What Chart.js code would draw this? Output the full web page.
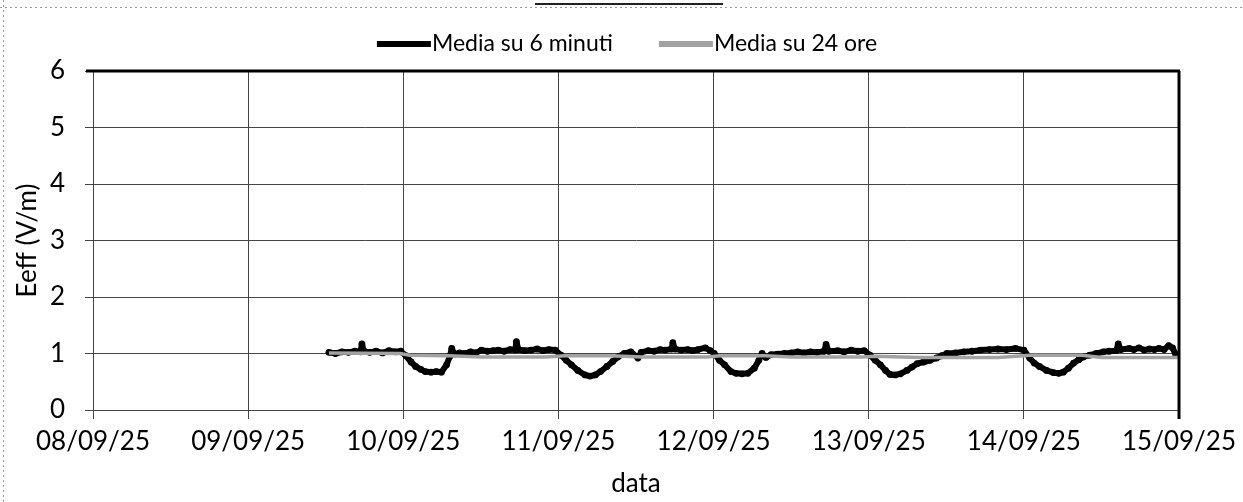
<!DOCTYPE html>
<html><head><meta charset="utf-8">
<script src="https://cdn.jsdelivr.net/npm/chart.js@4.4.1/dist/chart.umd.min.js"></script>
<style>html,body{margin:0;padding:0;background:#fff;overflow:hidden}#wrap{width:1243px;height:502px;position:relative}</style>
</head><body><div id="wrap"><canvas id="c" width="1243" height="502"></canvas></div>
<script>
// x-axis: hours since 08/09/25 00:00
const tickLabels = ['08/09/25','09/09/25','10/09/25','11/09/25','12/09/25','13/09/25','14/09/25','15/09/25'];
const seriesNames = ['Media su 6 minuti','Media su 24 ore'];

const minuteHours = [36.5,37.5,38.5,39.5,40.5,41.4,41.6,41.9,42.8,43.8,44.8,45.8,46.8,47.6,
 48.4,49.2,49.9,50.7,51.4,52.3,53.1,53.9,54.7,55.2,55.5,55.9,56.7,57.6,58.4,59.2,60.1,61.0,61.9,62.7,63.6,64.5,65.3,65.5,65.8,66.8,67.8,68.7,69.6,70.5,71.5,
 72.4,73.2,74.0,75.0,76.1,76.9,77.7,78.5,79.5,80.4,81.2,82.2,83.2,84.3,84.8,85.9,86.8,87.7,88.5,89.5,89.7,90.0,91.0,92.0,92.8,93.6,94.7,95.5,
 96.1,96.9,97.7,98.7,99.5,100.4,101.3,102.3,103.0,103.5,104.1,104.9,105.9,107.0,108.0,109.0,110.0,111.0,112.0,113.1,113.4,113.8,115.2,116.2,117.3,118.3,119.3,
 120.2,121.0,121.8,122.6,123.3,124.1,124.9,125.9,126.7,127.5,128.5,129.5,130.5,131.3,132.1,133.4,134.7,136.0,137.3,138.7,140.0,141.3,142.7,144.0,
 144.9,145.6,146.4,147.5,148.6,149.4,150.1,150.9,151.7,152.5,153.2,154.2,155.2,156.3,157.2,158.3,158.6,159.0,160.3,161.0,161.8,162.6,163.4,164.2,164.9,165.7,166.4,167.0,167.5,168.0];
const minuteValues = [1.02,1.00,1.03,1.02,1.04,1.03,1.17,1.04,1.02,1.04,1.01,1.05,1.03,1.04,
 0.96,0.85,0.77,0.72,0.68,0.67,0.68,0.67,0.80,0.95,1.09,0.99,1.01,1.00,1.03,1.01,1.06,1.04,1.05,1.06,1.04,1.07,1.06,1.21,1.07,1.05,1.06,1.08,1.05,1.07,1.06,
 0.97,0.88,0.80,0.70,0.62,0.60,0.62,0.68,0.77,0.86,0.94,1.00,1.03,0.92,1.02,1.05,1.04,1.07,1.06,1.08,1.19,1.08,1.06,1.07,1.05,1.07,1.10,1.05,
 1.00,0.88,0.80,0.68,0.65,0.64,0.65,0.74,0.88,1.00,0.93,0.98,0.99,1.00,1.01,1.03,1.01,1.03,1.02,1.04,1.16,1.04,1.05,1.03,1.06,1.04,1.05,
 0.97,0.88,0.80,0.70,0.63,0.62,0.64,0.70,0.76,0.82,0.85,0.88,0.92,0.96,1.00,1.01,1.03,1.04,1.06,1.07,1.08,1.07,1.09,1.06,
 0.92,0.83,0.77,0.70,0.66,0.65,0.67,0.74,0.83,0.89,0.94,0.97,1.00,1.03,1.04,1.05,1.17,1.07,1.09,1.07,1.10,1.06,1.08,1.07,1.09,1.07,1.14,1.10,0.98,0.97];

const dailyHours = [36.5,47.5,49,55,60,70,73,80,85,95,97,104,108,119,121,128,140,145,153,156,168];
const dailyValues = [1.01,1.00,0.97,0.96,0.94,0.94,0.96,0.96,0.94,0.94,0.96,0.96,0.94,0.94,0.95,0.93,0.93,0.97,0.97,0.93,0.93];

const FONT = 'Lato';
const toXY = (xs, ys) => xs.map((x, i) => ({x, y: ys[i]}));

const legendPlugin = {
  id: 'customLegend',
  afterDraw(chart) {
    const ctx = chart.ctx;
    ctx.save();
    ctx.font = '23px ' + FONT;
    ctx.textBaseline = 'middle';
    const sampleW = 54, gapItems = 46, y = 44;
    const items = chart.data.datasets.map(d => ({label: d.label, color: d.borderColor, w: ctx.measureText(d.label).width}));
    let total = items.reduce((s, it) => s + sampleW + 1 + it.w, 0) + gapItems * (items.length - 1);
    let x = 627 - total / 2;
    items.forEach(it => {
      ctx.fillStyle = it.color;
      ctx.fillRect(x, y - 3, sampleW, 6);
      ctx.fillStyle = '#000';
      ctx.fillText(it.label, x + sampleW + 1, y);
      x += sampleW + 1 + it.w + gapItems;
    });
    ctx.restore();
  }
};

const framePlugin = {
  id: 'frame',
  afterDraw(chart) {
    const {ctx, chartArea: a} = chart;
    ctx.save();
    ctx.strokeStyle = '#000';
    ctx.lineWidth = 3;
    ctx.beginPath();
    ctx.moveTo(a.left - 7, a.top);
    ctx.lineTo(a.right + 1, a.top);
    ctx.moveTo(a.right, a.top);
    ctx.lineTo(a.right, a.bottom + 9);
    ctx.stroke();
    // scan artefacts: dotted border line and cut-off title underline
    ctx.strokeStyle = '#9a9a9a';
    ctx.lineWidth = 1;
    ctx.setLineDash([2, 3]);
    ctx.beginPath();
    ctx.moveTo(0, 7.5); ctx.lineTo(1243, 7.5);
    ctx.moveTo(3.5, 0); ctx.lineTo(3.5, 502);
    ctx.stroke();
    ctx.setLineDash([]);
    ctx.strokeStyle = '#222';
    ctx.lineWidth = 2;
    ctx.beginPath();
    ctx.moveTo(535, 4); ctx.lineTo(723, 4);
    ctx.stroke();
    ctx.restore();
  }
};

new Chart(document.getElementById('c'), {
  type: 'line',
  data: {
    datasets: [
      {label: seriesNames[0], data: toXY(minuteHours, minuteValues), borderColor: '#000', backgroundColor: '#000',
       borderWidth: 6, borderJoinStyle: 'round', borderCapStyle: 'round',
       pointRadius: 3.4, pointBackgroundColor: '#000', pointBorderWidth: 0, tension: 0, order: 2},
      {label: seriesNames[1], data: toXY(dailyHours, dailyValues), borderColor: '#a3a3a3', backgroundColor: '#a3a3a3',
       borderWidth: 3.5, pointRadius: 0, tension: 0, order: 1}
    ]
  },
  options: {
    responsive: false, animation: false, devicePixelRatio: 1,
    layout: {padding: {top: 71, right: 60, bottom: 0, left: 0}},
    plugins: {legend: {display: false}, tooltip: {enabled: false}},
    scales: {
      x: {
        type: 'linear', min: 0, max: 168,
        ticks: {stepSize: 24, autoSkip: false, maxRotation: 0, color: '#000', padding: 7,
                font: {family: FONT, size: 26}, callback: v => tickLabels[Math.round(v / 24)]},
        grid: {color: '#444', lineWidth: 1, tickLength: 9, tickColor: '#444'},
        border: {color: '#444', width: 1},
        title: {display: true, text: 'data', color: '#000', font: {family: FONT, size: 26}, padding: {top: 0, bottom: 3}},
        afterFit: s => { s.height = 92; }
      },
      y: {
        min: 0, max: 6,
        ticks: {stepSize: 1, color: '#000', padding: 20, font: {family: FONT, size: 26}},
        grid: {color: '#444', lineWidth: 1, tickLength: 8, tickColor: '#444'},
        border: {color: '#444', width: 1},
        title: {display: true, text: 'Eeff (V/m)', color: '#000', font: {family: FONT, size: 26}, padding: {top: 12, bottom: 0}},
        afterFit: s => { s.width = 93; }
      }
    }
  },
  plugins: [legendPlugin, framePlugin]
});
</script>
</body></html>
